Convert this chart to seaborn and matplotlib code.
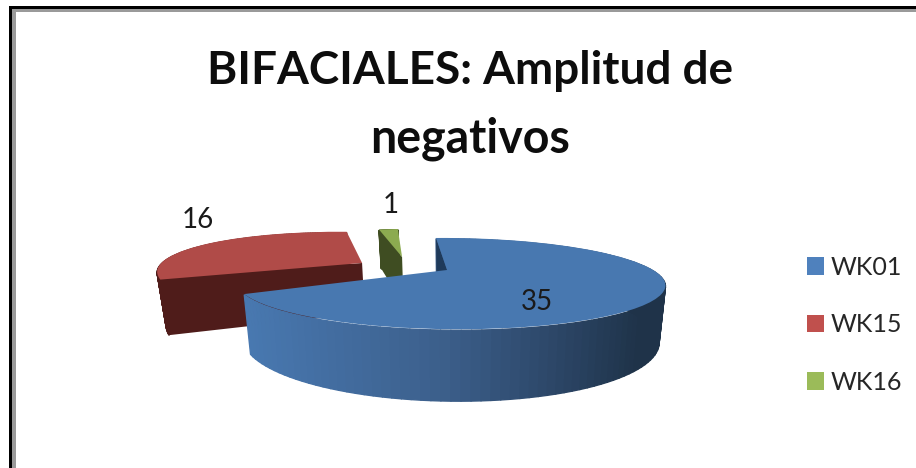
import numpy as np
import matplotlib
matplotlib.use("Agg")
import matplotlib.pyplot as plt
import seaborn as sns
from matplotlib.collections import PolyCollection
from matplotlib.colors import LinearSegmentedColormap
from matplotlib.patches import Patch, Rectangle
from matplotlib.transforms import Transform

categories = ["WK01", "WK15", "WK16"]
values = [35, 16, 1]
title_lines = ["BIFACIALES: Amplitud de", "negativos"]

top_colors = ["#4878b0", "#b04b48", "#8cab50"]
legend_colors = ["#4f81bd", "#c0504d", "#9bbb59"]
face_colors = ["#1f3a5a", "#4f1c1a", "#3f4d22"]
shifts = [(0, 0), (-85, -7), (-45, -13)]
warps = [((1.01, -0.15), (0.015, 1)), ((0.95, -0.55), (0.046, 0.95)), ((1, -0.36), (0, 0.88))]
label_pos = [(537, 302), (198, 220), (391, 205)]

sns.set_theme(style="white")
plt.rcParams["font.family"] = ["Lato", "DejaVu Sans"]

CX, CY, A, B = 453.0, 283.5, 212.0, 45.5
beta, dirx, diry = 0.298, -0.094, 0.996
gam = np.sqrt(1 - beta ** 2)


def project(u, v):
    ex, ey = diry, -dirx
    par = u * dirx + v * diry
    perp = u * ex + v * ey
    den = 1 + beta * par
    p2, q2 = (par + beta) / den, perp * gam / den
    return CX + A * (p2 * dirx + q2 * ex), CY - B * (p2 * diry + q2 * ey)


APEX_X, APEX_Y = project(0.0, 0.0)


def place(i, x, y):
    dx, dy = x - APEX_X, y - APEX_Y
    (a, b), (c, d) = warps[i]
    return (APEX_X + shifts[i][0] + a * dx + b * dy,
            APEX_Y + shifts[i][1] + c * dx + d * dy)


def lower(x, y):
    return CX + (x - CX) * 0.97, y + 58 + 0.33 * (y - 287)


class PieMap(Transform):
    input_dims = output_dims = 2
    is_affine = False

    def __init__(self, index):
        super().__init__()
        self.index = index

    def transform_non_affine(self, values):
        values = np.asarray(values)
        x, y = project(values[:, 0], values[:, 1])
        return np.column_stack(place(self.index, x, y))


fig = plt.figure(figsize=(9.16, 4.68), dpi=100, facecolor="white")
ax = fig.add_axes([0, 0, 1, 1])
wedges, _ = ax.pie(values, colors=top_colors, startangle=96, counterclock=False,
                   wedgeprops={"linewidth": 0})
ax.set_aspect("auto")
ax.set_xlim(0, 916)
ax.set_ylim(468, 0)
ax.axis("off")

side_cmap = LinearSegmentedColormap.from_list(
    "side", [(0, "#4878b0"), (0.49, "#3c5f8b"), (0.8, "#2b4565"), (1, "#1f3349")])

draw_order = {1: 2, 2: 3, 0: 6}
for i, w in enumerate(wedges):
    t = np.radians(np.linspace(w.theta1, w.theta2, 120))
    x, y = place(i, *project(np.cos(t), np.sin(t)))
    x2, y2 = lower(x, y)
    verts = [[(x[k], y[k] + 1), (x[k + 1], y[k + 1] + 1), (x2[k + 1], y2[k + 1]), (x2[k], y2[k])]
             for k in range(len(t) - 1)]
    if i == 0:
        shade = side_cmap(np.clip((x[:-1] - 245) / 395, 0, 1))
    else:
        shade = [face_colors[i]] * len(verts)
    z = draw_order[i]
    ax.add_collection(PolyCollection(verts, facecolors=shade, edgecolors=shade,
                                     linewidths=1.0, zorder=z))
    # the one cut face of the slice that looks towards the viewer
    ax_, ay_ = place(i, APEX_X, APEX_Y)
    bx_, by_ = lower(ax_, ay_)
    th = np.radians(w.theta2)
    ex_, ey_ = place(i, *project(np.cos(th), np.sin(th)))
    fx_, fy_ = lower(ex_, ey_)
    ax.fill([ex_, ax_, bx_, fx_], [ey_, ay_, by_, fy_], color=face_colors[i], lw=0,
            zorder=z + 0.1)
    w.set_transform(PieMap(i) + ax.transData)
    w.set_zorder(z + 0.2)

for lab, (px, py) in zip(values, label_pos):
    ax.text(px, py, str(lab), ha="center", va="center", fontsize=20,
            color="#1a1a1a", zorder=10)

for line, yy in zip(title_lines, (71, 139)):
    ax.text(470, yy, line, ha="center", va="center", fontsize=33.5 if line == title_lines[1] else 33,
            fontweight="bold", color="#0d0d0d", zorder=10)

handles = [Patch(facecolor=c, edgecolor="none") for c in legend_colors]
fig.legend(handles, categories, loc="center left", bbox_to_anchor=(0.881, 0.306),
           frameon=False, fontsize=18, handlelength=0.68, handleheight=0.68,
           handletextpad=0.25, labelspacing=1.38, borderpad=0, borderaxespad=0)

# outer frame of the picture
ax.add_patch(Rectangle((9, 6), 907, 3, color="black", lw=0, zorder=12))
ax.add_patch(Rectangle((9, 6), 3, 462, color="black", lw=0, zorder=12))
ax.add_patch(Rectangle((12, 9), 904, 2.5, color="#9a9a9a", lw=0, zorder=11))
ax.add_patch(Rectangle((12, 9), 4, 459, color="#9a9a9a", lw=0, zorder=11))

fig.savefig("out.png", dpi=100, facecolor="white")
